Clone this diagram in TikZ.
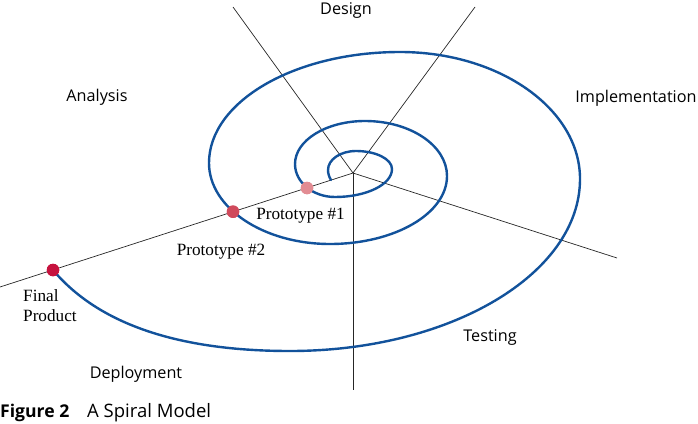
\documentclass[tikz,border=0pt]{standalone}
\usepackage{fontspec}
\newfontfamily\stagefont{Open Sans}
\newfontfamily\protofont{Liberation Serif}
\definecolor{spiralblue}{RGB}{18,82,155}
\definecolor{dotone}{RGB}{226,140,147}
\definecolor{dottwo}{RGB}{208,74,92}
\definecolor{dotfinal}{RGB}{198,18,62}
\begin{document}
\begin{tikzpicture}[x=1pt,y=-1pt,
  spoke/.style={line width=0.7pt, draw=black!85},
  spiral/.style={line width=2.4pt, draw=spiralblue, line cap=round},
  dotnode/.style={circle, inner sep=0pt, minimum size=12.5pt},
  stage/.style={font=\stagefont\fontsize{16.2}{18}\selectfont, inner sep=0pt, anchor=base},
  proto/.style={font=\protofont\fontsize{17.2}{20}\selectfont, inner sep=0pt}]
\useasboundingbox (0,0) rectangle (698,423);
\coordinate (c) at (353,173);
\coordinate (eUL) at (233,7);
\coordinate (eUR) at (475,7);
\coordinate (eR) at (617,258);
\coordinate (eD) at (353,390);
\coordinate (eL) at (0,287);
\draw[spoke] (c) -- (eUL);
\draw[spoke] (c) -- (eUR);
\draw[spoke] (c) -- (eR);
\draw[spoke] (c) -- (eD);
\draw[spoke] (c) -- (eL);
\node[dotnode, fill=dotone] (p1) at (307,188) {};
\node[dotnode, fill=dottwo] (p2) at (233,211.7) {};
\node[dotnode, fill=dotfinal] (fp) at (53,270) {};
\draw[spiral] (331,180) .. controls (329,177) and (328,173) .. (328,170)
  .. controls (328,159.5) and (340.5,151) .. (356,151)
  .. controls (375.9,151) and (392,159.1) .. (392,169)
  .. controls (392,184.5) and (366.5,197) .. (335,197)
  .. controls (312.9,197) and (295,182.2) .. (295,164)
  .. controls (295,140.3) and (326.3,121) .. (365,121)
  .. controls (410.3,121) and (447,145.6) .. (447,176)
  .. controls (447,213.6) and (394.6,244) .. (330,244)
  .. controls (263.2,244) and (209,207.7) .. (209,163)
  .. controls (209,101.7) and (294.5,52) .. (400,52)
  .. controls (499.4,52) and (580,108.9) .. (580,179)
  .. controls (580,274) and (450.2,351) .. (290,351)
  .. controls (170,351) and (95,320) .. (fp.center);
\node[dotnode, fill=dotone] at (p1) {};
\node[dotnode, fill=dottwo] at (p2) {};
\node[dotnode, fill=dotfinal] at (fp) {};
\node[stage] (design) at (346,14.5) {Design};
\node[stage] (analysis) at (97,101.5) {Analysis};
\node[stage] (impl) at (636,102) {Implementation};
\node[stage] (testing) at (490,341.5) {Testing};
\node[stage] (deploy) at (136,378.5) {Deployment};
\node[proto, anchor=base] (l1) at (300.5,219.5) {Prototype \#1};
\node[proto, anchor=base] (l2) at (221,255) {Prototype \#2};
\node[proto, anchor=base west] (lf) at (23,301) {Final};
\node[proto, anchor=base west] (lp) at (23,321) {Product};
\node[font=\stagefont\bfseries\fontsize{17.6}{20}\selectfont, inner sep=0pt, anchor=base west] (fig) at (0,417) {Figure 2};
\node[font=\stagefont\fontsize{18.5}{20}\selectfont, inner sep=0pt, anchor=base west] (cap) at (87,417) {A Spiral Model};
\end{tikzpicture}
\end{document}
